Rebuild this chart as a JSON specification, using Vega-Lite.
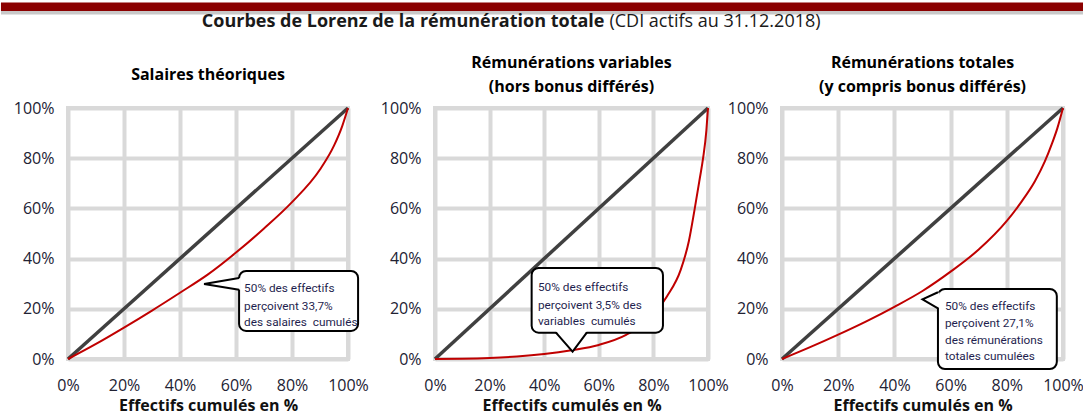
{
  "$schema": "https://vega.github.io/schema/vega-lite/v6.json",
  "padding": {"left": 0, "top": 0, "right": 0, "bottom": 0},
  "background": "white",
  "datasets": {
    "diag": [{"x": 0, "y": 0}, {"x": 100, "y": 100}],
    "curves": [
      {"p": 1, "x": 0, "y": 0}, {"p": 1, "x": 10, "y": 6.0}, {"p": 1, "x": 20, "y": 12.5}, {"p": 1, "x": 30, "y": 19.3}, {"p": 1, "x": 40, "y": 26.4}, {"p": 1, "x": 50, "y": 33.7}, {"p": 1, "x": 60, "y": 42.4}, {"p": 1, "x": 70, "y": 52}, {"p": 1, "x": 80, "y": 62.5}, {"p": 1, "x": 90, "y": 75.5}, {"p": 1, "x": 95, "y": 85}, {"p": 1, "x": 98, "y": 93}, {"p": 1, "x": 100, "y": 100},
      {"p": 2, "x": 0, "y": 0}, {"p": 2, "x": 10, "y": 0.1}, {"p": 2, "x": 20, "y": 0.4}, {"p": 2, "x": 30, "y": 1}, {"p": 2, "x": 40, "y": 2}, {"p": 2, "x": 50, "y": 3.5}, {"p": 2, "x": 60, "y": 5.6}, {"p": 2, "x": 70, "y": 9.6}, {"p": 2, "x": 80, "y": 17.5}, {"p": 2, "x": 85, "y": 25}, {"p": 2, "x": 90, "y": 35.5}, {"p": 2, "x": 93, "y": 47}, {"p": 2, "x": 95, "y": 59}, {"p": 2, "x": 97, "y": 72}, {"p": 2, "x": 98.2, "y": 80}, {"p": 2, "x": 99.4, "y": 91}, {"p": 2, "x": 100, "y": 100},
      {"p": 3, "x": 0, "y": 0}, {"p": 3, "x": 10, "y": 4.7}, {"p": 3, "x": 20, "y": 9.7}, {"p": 3, "x": 30, "y": 15}, {"p": 3, "x": 40, "y": 20.8}, {"p": 3, "x": 50, "y": 27.1}, {"p": 3, "x": 60, "y": 34.8}, {"p": 3, "x": 70, "y": 43.6}, {"p": 3, "x": 80, "y": 55}, {"p": 3, "x": 85, "y": 62.3}, {"p": 3, "x": 90, "y": 70.8}, {"p": 3, "x": 93.5, "y": 78.6}, {"p": 3, "x": 96, "y": 85.6}, {"p": 3, "x": 98, "y": 92}, {"p": 3, "x": 100, "y": 100}
    ],
    "boxes": [
      {"p": 1, "x": 61.1, "x2": 103.6, "y": 35.1, "y2": 11.2},
      {"p": 2, "x": 35.4, "x2": 83.5, "y": 36.3, "y2": 10.5},
      {"p": 3, "x": 55.5, "x2": 97.8, "y": 27.9, "y2": -4.0}
    ],
    "tails": [
      {"p": 1, "x": 48.6, "y": 29.9, "y2": 29.9}, {"p": 1, "x": 61.7, "y": 32.3, "y2": 27.6},
      {"p": 3, "x": 50.0, "y": 23.8, "y2": 23.8}, {"p": 3, "x": 56.1, "y": 26.6, "y2": 20.2}
    ],
    "tails2": [
      {"p": 2, "y": 2.9, "x": 50.4, "x2": 50.4}, {"p": 2, "y": 11.2, "x": 44.3, "x2": 55.6}
    ],
    "tailLines": [
      {"p": 1, "o": 1, "x": 61.1, "y": 32.3}, {"p": 1, "o": 2, "x": 48.6, "y": 29.9}, {"p": 1, "o": 3, "x": 61.1, "y": 27.6},
      {"p": 2, "o": 1, "x": 44.3, "y": 10.5}, {"p": 2, "o": 2, "x": 50.4, "y": 2.9}, {"p": 2, "o": 3, "x": 55.6, "y": 10.5},
      {"p": 3, "o": 1, "x": 55.5, "y": 26.6}, {"p": 3, "o": 2, "x": 50.0, "y": 23.8}, {"p": 3, "o": 3, "x": 55.5, "y": 20.2}
    ],
    "notes": [
      {"p": 1, "x": 62.9, "y": 28.3, "t": "50% des effectifs"},
      {"p": 1, "x": 62.9, "y": 21.3, "t": "perçoivent 33,7%"},
      {"p": 1, "x": 62.9, "y": 14.6, "t": "des salaires \u00a0cumulés"},
      {"p": 2, "x": 37.7, "y": 28.8, "t": "50% des effectifs"},
      {"p": 2, "x": 37.7, "y": 21.5, "t": "perçoivent 3,5% des"},
      {"p": 2, "x": 37.7, "y": 15.1, "t": "variables \u00a0cumulés"},
      {"p": 3, "x": 58.0, "y": 21.3, "t": "50% des effectifs"},
      {"p": 3, "x": 58.0, "y": 14.3, "t": "perçoivent 27,1%"},
      {"p": 3, "x": 58.0, "y": 7.6, "t": "des rémunérations"},
      {"p": 3, "x": 58.0, "y": 1.1, "t": "totales cumulées"}
    ],
    "header": [{"x": -6.6, "x2": 100, "y": 2.5, "y2": 11, "s": 11, "s2": 14.5}],
    "headerText": [
      {"x": 52.8, "y": 22, "t": "Courbes de Lorenz de la rémunération totale", "n": "(CDI actifs au 31.12.2018)"}
    ]
  },
  "config": {
    "font": "Open Sans",
    "view": {"stroke": "#d9d9d9", "strokeWidth": 4, "fill": "white"},
    "axis": {
      "grid": true, "gridColor": "#d9d9d9", "gridWidth": 4,
      "domain": false, "ticks": false,
      "labelFont": "Open Sans", "labelFontSize": 16, "labelColor": "#222233",
      "labelOverlap": false, "labelFlush": false,
      "titleFont": "Open Sans", "titleFontSize": 16, "titleFontWeight": "bold", "titleColor": "#111111"
    },
    "axisX": {"labelPadding": 18, "titlePadding": 4},
    "axisY": {"labelPadding": 14},
    "title": {"font": "Open Sans", "fontSize": 16, "fontWeight": "bold", "color": "#000000", "anchor": "middle", "offset": 5}
  },
  "spacing": 8,
  "vconcat": [
    {
      "width": 1016, "height": 45,
      "view": {"stroke": null, "fill": null},
      "layer": [
        {
          "data": {"name": "header"},
          "mark": {"type": "rect", "color": "#c8c8c8"},
          "encoding": {
            "x": {"field": "x", "type": "quantitative", "scale": {"domain": [0, 100]}, "axis": null},
            "x2": {"field": "x2"},
            "y": {"field": "s", "type": "quantitative", "scale": {"domain": [0, 45], "reverse": true}, "axis": null},
            "y2": {"field": "s2"}
          }
        },
        {
          "data": {"name": "header"},
          "mark": {"type": "rect", "color": "#8b0000"},
          "encoding": {
            "x": {"field": "x", "type": "quantitative"},
            "x2": {"field": "x2"},
            "y": {"field": "y", "type": "quantitative"},
            "y2": {"field": "y2"}
          }
        },
        {
          "data": {"name": "headerText"},
          "mark": {"type": "text", "align": "right", "baseline": "middle", "fontSize": 18, "fontWeight": "bold", "color": "#1a1a1a"},
          "encoding": {
            "x": {"field": "x", "type": "quantitative"},
            "y": {"field": "y", "type": "quantitative"},
            "text": {"field": "t"}
          }
        },
        {
          "data": {"name": "headerText"},
          "mark": {"type": "text", "align": "left", "baseline": "middle", "fontSize": 18, "fontWeight": "normal", "color": "#1a1a1a", "dx": 5},
          "encoding": {
            "x": {"field": "x", "type": "quantitative"},
            "y": {"field": "y", "type": "quantitative"},
            "text": {"field": "n"}
          }
        }
      ]
    },
    {
      "spacing": 7,
      "hconcat": [
        {
          "width": 280, "height": 251,
          "title": {"text": ["", "Salaires théoriques", ""], "lineHeight": 12},
          "layer": [
            {
              "data": {"name": "diag"},
              "mark": {"type": "line", "color": "#404040", "strokeWidth": 3.5},
              "encoding": {
                "x": {"field": "x", "type": "quantitative", "scale": {"domain": [0, 100], "nice": false}, "title": "Effectifs cumulés en %", "axis": {"values": [0, 20, 40, 60, 80, 100], "labelExpr": "datum.value + '%'"}},
                "y": {"field": "y", "type": "quantitative", "scale": {"domain": [0, 100], "nice": false}, "title": null, "axis": {"values": [0, 20, 40, 60, 80, 100], "labelExpr": "datum.value + '%'"}}
              }
            },
            {
              "data": {"name": "curves"},
              "transform": [{"filter": "datum.p == 1"}],
              "mark": {"type": "line", "color": "#c00000", "strokeWidth": 2, "interpolate": "monotone"},
              "encoding": {"x": {"field": "x", "type": "quantitative"}, "y": {"field": "y", "type": "quantitative"}}
            },
            {
              "data": {"name": "boxes"},
              "transform": [{"filter": "datum.p == 1"}],
              "mark": {"type": "rect", "fill": "white", "stroke": "black", "strokeWidth": 2, "cornerRadius": 7},
              "encoding": {"x": {"field": "x", "type": "quantitative"}, "x2": {"field": "x2"}, "y": {"field": "y", "type": "quantitative"}, "y2": {"field": "y2"}}
            },
            {
              "data": {"name": "tails"},
              "transform": [{"filter": "datum.p == 1"}],
              "mark": {"type": "area", "fill": "white", "opacity": 1},
              "encoding": {"x": {"field": "x", "type": "quantitative"}, "y": {"field": "y", "type": "quantitative"}, "y2": {"field": "y2"}}
            },
            {
              "data": {"name": "tailLines"},
              "transform": [{"filter": "datum.p == 1"}],
              "mark": {"type": "line", "color": "black", "strokeWidth": 2, "strokeJoin": "miter"},
              "encoding": {"x": {"field": "x", "type": "quantitative"}, "y": {"field": "y", "type": "quantitative"}, "order": {"field": "o"}}
            },
            {
              "data": {"name": "notes"},
              "transform": [{"filter": "datum.p == 1"}],
              "mark": {"type": "text", "align": "left", "baseline": "middle", "font": "Roboto", "fontSize": 11.8, "color": "#1f1f4f"},
              "encoding": {"x": {"field": "x", "type": "quantitative"}, "y": {"field": "y", "type": "quantitative"}, "text": {"field": "t"}}
            }
          ]
        },
        {
          "spacing": -6,
          "hconcat": [
            {
              "width": 273, "height": 251,
              "title": {"text": ["Rémunérations variables", "(hors bonus différés)"], "lineHeight": 24},
              "layer": [
                {
                  "data": {"name": "diag"},
                  "mark": {"type": "line", "color": "#404040", "strokeWidth": 3.5},
                  "encoding": {
                    "x": {"field": "x", "type": "quantitative", "scale": {"domain": [0, 100], "nice": false}, "title": "Effectifs cumulés en %", "axis": {"values": [0, 20, 40, 60, 80, 100], "labelExpr": "datum.value + '%'"}},
                    "y": {"field": "y", "type": "quantitative", "scale": {"domain": [0, 100], "nice": false}, "title": null, "axis": {"values": [0, 20, 40, 60, 80, 100], "labelExpr": "datum.value + '%'"}}
                  }
                },
                {
                  "data": {"name": "curves"},
                  "transform": [{"filter": "datum.p == 2"}],
                  "mark": {"type": "line", "color": "#c00000", "strokeWidth": 2, "interpolate": "monotone"},
                  "encoding": {"x": {"field": "x", "type": "quantitative"}, "y": {"field": "y", "type": "quantitative"}}
                },
                {
                  "data": {"name": "boxes"},
                  "transform": [{"filter": "datum.p == 2"}],
                  "mark": {"type": "rect", "fill": "white", "stroke": "black", "strokeWidth": 2, "cornerRadius": 7},
                  "encoding": {"x": {"field": "x", "type": "quantitative"}, "x2": {"field": "x2"}, "y": {"field": "y", "type": "quantitative"}, "y2": {"field": "y2"}}
                },
                {
                  "data": {"name": "tails2"},
                  "transform": [{"filter": "datum.p == 2"}],
                  "mark": {"type": "area", "fill": "white", "orient": "horizontal"},
                  "encoding": {"y": {"field": "y", "type": "quantitative"}, "x": {"field": "x", "type": "quantitative"}, "x2": {"field": "x2"}}
                },
                {
                  "data": {"name": "tailLines"},
                  "transform": [{"filter": "datum.p == 2"}],
                  "mark": {"type": "line", "color": "black", "strokeWidth": 2, "strokeJoin": "miter"},
                  "encoding": {"x": {"field": "x", "type": "quantitative"}, "y": {"field": "y", "type": "quantitative"}, "order": {"field": "o"}}
                },
                {
                  "data": {"name": "notes"},
                  "transform": [{"filter": "datum.p == 2"}],
                  "mark": {"type": "text", "align": "left", "baseline": "middle", "font": "Roboto", "fontSize": 11.8, "color": "#1f1f4f"},
                  "encoding": {"x": {"field": "x", "type": "quantitative"}, "y": {"field": "y", "type": "quantitative"}, "text": {"field": "t"}}
                }
              ]
            },
            {
              "width": 281, "height": 251,
              "title": {"text": ["Rémunérations totales", "(y compris bonus différés)"], "lineHeight": 24},
              "layer": [
                {
                  "data": {"name": "diag"},
                  "mark": {"type": "line", "color": "#404040", "strokeWidth": 3.5},
                  "encoding": {
                    "x": {"field": "x", "type": "quantitative", "scale": {"domain": [0, 100], "nice": false}, "title": "Effectifs cumulés en %", "axis": {"values": [0, 20, 40, 60, 80, 100], "labelExpr": "datum.value + '%'"}},
                    "y": {"field": "y", "type": "quantitative", "scale": {"domain": [0, 100], "nice": false}, "title": null, "axis": {"values": [0, 20, 40, 60, 80, 100], "labelExpr": "datum.value + '%'"}}
                  }
                },
                {
                  "data": {"name": "curves"},
                  "transform": [{"filter": "datum.p == 3"}],
                  "mark": {"type": "line", "color": "#c00000", "strokeWidth": 2, "interpolate": "monotone"},
                  "encoding": {"x": {"field": "x", "type": "quantitative"}, "y": {"field": "y", "type": "quantitative"}}
                },
                {
                  "data": {"name": "boxes"},
                  "transform": [{"filter": "datum.p == 3"}],
                  "mark": {"type": "rect", "fill": "white", "stroke": "black", "strokeWidth": 2, "cornerRadius": 7},
                  "encoding": {"x": {"field": "x", "type": "quantitative"}, "x2": {"field": "x2"}, "y": {"field": "y", "type": "quantitative"}, "y2": {"field": "y2"}}
                },
                {
                  "data": {"name": "tails"},
                  "transform": [{"filter": "datum.p == 3"}],
                  "mark": {"type": "area", "fill": "white"},
                  "encoding": {"x": {"field": "x", "type": "quantitative"}, "y": {"field": "y", "type": "quantitative"}, "y2": {"field": "y2"}}
                },
                {
                  "data": {"name": "tailLines"},
                  "transform": [{"filter": "datum.p == 3"}],
                  "mark": {"type": "line", "color": "black", "strokeWidth": 2, "strokeJoin": "miter"},
                  "encoding": {"x": {"field": "x", "type": "quantitative"}, "y": {"field": "y", "type": "quantitative"}, "order": {"field": "o"}}
                },
                {
                  "data": {"name": "notes"},
                  "transform": [{"filter": "datum.p == 3"}],
                  "mark": {"type": "text", "align": "left", "baseline": "middle", "font": "Roboto", "fontSize": 11.8, "color": "#1f1f4f"},
                  "encoding": {"x": {"field": "x", "type": "quantitative"}, "y": {"field": "y", "type": "quantitative"}, "text": {"field": "t"}}
                }
              ]
            }
          ]
        }
      ]
    }
  ]
}
